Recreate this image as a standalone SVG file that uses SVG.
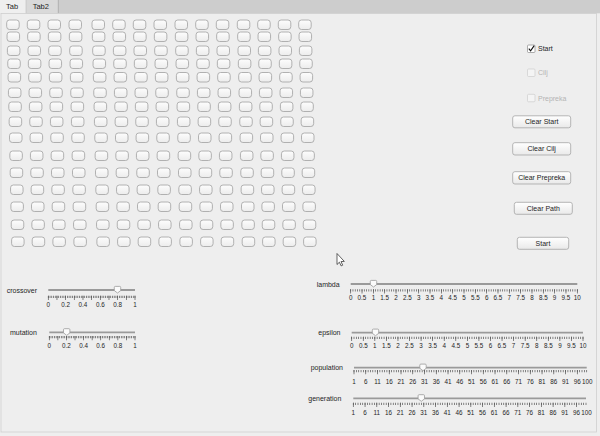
<svg xmlns="http://www.w3.org/2000/svg" xmlns:xlink="http://www.w3.org/1999/xlink" width="600" height="436" viewBox="0 0 600 436">
<style>
text{font-family:"Liberation Sans",Arial,sans-serif;fill:#1e1e1e}
.lb{font-size:7px}
.tl{font-size:6.3px;text-anchor:middle}
.bt{font-size:7px;text-anchor:middle}
.dis{fill:#b4b4b4}
.cell{fill:url(#gc);stroke:#a9a9a9;stroke-width:0.9}
.btn{fill:url(#gb);stroke:#a4a4a4;stroke-width:0.8}
.trk{stroke:#9a9a9a;stroke-width:1.8}
.mn{stroke:#555;stroke-width:2.3;fill:none}
.mj{stroke:#555;stroke-width:4.3;fill:none}
.thumb{fill:#fbfbfb;stroke:#9a9a9a;stroke-width:0.8}
</style>
<defs>
<linearGradient id="gc" x1="0" y1="0" x2="0" y2="1"><stop offset="0" stop-color="#fdfdfd"/><stop offset="1" stop-color="#ececec"/></linearGradient>
<linearGradient id="gb" x1="0" y1="0" x2="0" y2="1"><stop offset="0" stop-color="#ffffff"/><stop offset="1" stop-color="#e9e9e9"/></linearGradient>
<rect id="cell" width="12.5" height="9.5" rx="2.8" class="cell"/>
<path id="th" class="thumb" d="M-3.2,-2.6 q0,-1 1,-1 h4.4 q1,0 1,1 v3.2 l-3.2,2.4 l-3.2,-2.4 z"/>
<g id="gridrow">
<use xlink:href="#cell" x="6.7"/><use xlink:href="#cell" x="27.3"/><use xlink:href="#cell" x="48"/><use xlink:href="#cell" x="69"/><use xlink:href="#cell" x="92"/><use xlink:href="#cell" x="112.7"/><use xlink:href="#cell" x="133.3"/><use xlink:href="#cell" x="154"/><use xlink:href="#cell" x="175"/><use xlink:href="#cell" x="195.7"/><use xlink:href="#cell" x="216.3"/><use xlink:href="#cell" x="237.3"/><use xlink:href="#cell" x="257.7"/><use xlink:href="#cell" x="278.3"/><use xlink:href="#cell" x="298.7"/>
</g>
</defs>

<rect width="600" height="436" fill="#eeeeee"/>
<g id="tabs">
<rect x="0" y="0" width="600" height="13.3" fill="#cdcdcd"/>
<rect x="26" y="0" width="32" height="13.3" fill="#d9d9d9"/>
<rect x="0" y="0" width="26" height="13.8" fill="#efefef"/>
<line x1="58.3" y1="0" x2="58.3" y2="13.3" stroke="#a8a8a8" stroke-width="0.8"/>
<line x1="26" y1="0" x2="26" y2="13.3" stroke="#bdbdbd" stroke-width="0.6"/>
<text class="lb" x="6" y="9.2" style="font-size:7.5px">Tab</text>
<text class="lb" x="32.7" y="9.2" style="font-size:7.5px">Tab2</text>
</g>
<rect x="1" y="13.5" width="595.5" height="418.5" fill="none" stroke="#cfcfcf" stroke-width="0.8"/>

<g id="grid">
<use xlink:href="#gridrow" x="0" y="20"/>
<use xlink:href="#gridrow" x="0.35" y="32"/>
<use xlink:href="#gridrow" x="0.7" y="46"/>
<use xlink:href="#gridrow" x="1.05" y="59"/>
<use xlink:href="#gridrow" x="1.4" y="72.5"/>
<use xlink:href="#gridrow" x="1.75" y="88"/>
<use xlink:href="#gridrow" x="2.1" y="102"/>
<use xlink:href="#gridrow" x="2.45" y="117"/>
<use xlink:href="#gridrow" x="2.8" y="133"/>
<use xlink:href="#gridrow" x="3.15" y="151"/>
<use xlink:href="#gridrow" x="3.5" y="168"/>
<use xlink:href="#gridrow" x="3.85" y="185"/>
<use xlink:href="#gridrow" x="4.2" y="202"/>
<use xlink:href="#gridrow" x="4.55" y="220"/>
<use xlink:href="#gridrow" x="4.9" y="237"/>
</g>

<g id="chk-start">
<rect x="527.5" y="45" width="7.5" height="7.5" rx="1" fill="#fff" stroke="#8a8a8a" stroke-width="0.7"/>
<path d="M528.8,48.6 l1.8,2.2 l3.6,-5.2" fill="none" stroke="#111" stroke-width="1.1"/>
<text class="lb" x="538" y="51.3">Start</text>
</g>
<g id="chk-cilj">
<rect x="527.5" y="69" width="7.5" height="7.5" rx="1" fill="#f4f4f4" stroke="#cdcdcd" stroke-width="0.7"/>
<text class="lb dis" x="538" y="75.3">Cilj</text>
</g>
<g id="chk-prepreka">
<rect x="527.5" y="94.3" width="7.5" height="7.5" rx="1" fill="#f4f4f4" stroke="#cdcdcd" stroke-width="0.7"/>
<text class="lb dis" x="538" y="100.6">Prepreka</text>
</g>

<g id="btn-clear-start"><rect class="btn" x="512.7" y="115.8" width="58" height="12" rx="2.2"/><text class="bt" x="541.7" y="124.4">Clear Start</text></g>
<g id="btn-clear-cilj"><rect class="btn" x="512.7" y="142.7" width="58" height="12.3" rx="2.2"/><text class="bt" x="541.7" y="151.4">Clear Cilj</text></g>
<g id="btn-clear-prepreka"><rect class="btn" x="512.7" y="171.7" width="58" height="12.3" rx="2.2"/><text class="bt" x="541.7" y="180.4">Clear Prepreka</text></g>
<g id="btn-clear-path"><rect class="btn" x="514.3" y="202.3" width="58" height="12" rx="2.2"/><text class="bt" x="543.3" y="210.9">Clear Path</text></g>
<g id="btn-start"><rect class="btn" x="517.3" y="237.3" width="51.4" height="12" rx="2.2"/><text class="bt" x="543" y="245.9">Start</text></g>

<g id="cursor">
<path d="M337,253.5 L337,264.5 L339.4,262.2 L341.1,265.9 L342.7,265.2 L341,261.6 L344.3,261.4 Z" fill="#fff" stroke="#222" stroke-width="0.7" stroke-linejoin="round"/>
</g>

<g id="slider-crossover">
<text class="lb" x="6.7" y="292.5">crossover</text>
<line class="trk" x1="48.3" y1="290" x2="135" y2="290"/>
<line class="mn" x1="47.95" y1="296.85" x2="135.4" y2="296.85" stroke-dasharray="0.7 1.034"/>
<line class="mj" x1="47.95" y1="297.85" x2="135.4" y2="297.85" stroke-dasharray="0.7 7.97"/>
<use xlink:href="#th" x="117.5" y="290"/>
<text class="tl" x="48.3" y="306.7">0</text><text class="tl" x="65.6" y="306.7">0.2</text><text class="tl" x="83" y="306.7">0.4</text><text class="tl" x="100.3" y="306.7">0.6</text><text class="tl" x="117.7" y="306.7">0.8</text><text class="tl" x="135" y="306.7">1</text>
</g>

<g id="slider-mutation">
<text class="lb" x="10" y="334.5">mutation</text>
<line class="trk" x1="49.3" y1="332.3" x2="135" y2="332.3"/>
<line class="mn" x1="48.95" y1="337.15" x2="135.4" y2="337.15" stroke-dasharray="0.7 1.014"/>
<line class="mj" x1="48.95" y1="338.15" x2="135.4" y2="338.15" stroke-dasharray="0.7 7.87"/>
<use xlink:href="#th" x="66.7" y="332.3"/>
<text class="tl" x="49.3" y="347.7">0</text><text class="tl" x="66.4" y="347.7">0.2</text><text class="tl" x="83.6" y="347.7">0.4</text><text class="tl" x="100.7" y="347.7">0.6</text><text class="tl" x="117.9" y="347.7">0.8</text><text class="tl" x="135" y="347.7">1</text>
</g>

<g id="slider-lambda">
<text class="lb" x="316.7" y="286.5">lambda</text>
<line class="trk" x1="350.7" y1="284" x2="577.3" y2="284"/>
<line class="mn" x1="350.35" y1="290.45" x2="577.7" y2="290.45" stroke-dasharray="0.7 1.566"/>
<line class="mj" x1="350.35" y1="291.45" x2="577.7" y2="291.45" stroke-dasharray="0.7 10.63"/>
<use xlink:href="#th" x="373.5" y="284"/>
<g>
<text class="tl" x="350.7" y="300">0</text><text class="tl" x="362" y="300">0.5</text><text class="tl" x="373.4" y="300">1</text><text class="tl" x="384.7" y="300">1.5</text><text class="tl" x="396" y="300">2</text><text class="tl" x="407.4" y="300">2.5</text><text class="tl" x="418.7" y="300">3</text><text class="tl" x="430" y="300">3.5</text><text class="tl" x="441.3" y="300">4</text><text class="tl" x="452.7" y="300">4.5</text><text class="tl" x="464" y="300">5</text><text class="tl" x="475.3" y="300">5.5</text><text class="tl" x="486.7" y="300">6</text><text class="tl" x="498" y="300">6.5</text><text class="tl" x="509.3" y="300">7</text><text class="tl" x="520.7" y="300">7.5</text><text class="tl" x="532" y="300">8</text><text class="tl" x="543.3" y="300">8.5</text><text class="tl" x="554.6" y="300">9</text><text class="tl" x="566" y="300">9.5</text><text class="tl" x="577.3" y="300">10</text>
</g>
</g>

<g id="slider-epsilon">
<text class="lb" x="318.3" y="335">epsilon</text>
<line class="trk" x1="351.7" y1="332.7" x2="583" y2="332.7"/>
<line class="mn" x1="351.35" y1="337.85" x2="583.4" y2="337.85" stroke-dasharray="0.7 1.613"/>
<line class="mj" x1="351.35" y1="338.85" x2="583.4" y2="338.85" stroke-dasharray="0.7 10.865"/>
<use xlink:href="#th" x="375.5" y="332.7"/>
<g>
<text class="tl" x="351.7" y="348.3">0</text><text class="tl" x="363.3" y="348.3">0.5</text><text class="tl" x="374.8" y="348.3">1</text><text class="tl" x="386.4" y="348.3">1.5</text><text class="tl" x="398" y="348.3">2</text><text class="tl" x="409.5" y="348.3">2.5</text><text class="tl" x="421.1" y="348.3">3</text><text class="tl" x="432.7" y="348.3">3.5</text><text class="tl" x="444.2" y="348.3">4</text><text class="tl" x="455.8" y="348.3">4.5</text><text class="tl" x="467.4" y="348.3">5</text><text class="tl" x="478.9" y="348.3">5.5</text><text class="tl" x="490.5" y="348.3">6</text><text class="tl" x="502" y="348.3">6.5</text><text class="tl" x="513.6" y="348.3">7</text><text class="tl" x="525.2" y="348.3">7.5</text><text class="tl" x="536.7" y="348.3">8</text><text class="tl" x="548.3" y="348.3">8.5</text><text class="tl" x="559.9" y="348.3">9</text><text class="tl" x="571.4" y="348.3">9.5</text><text class="tl" x="583" y="348.3">10</text>
</g>
</g>

<g id="slider-population">
<text class="lb" x="310.7" y="370.3">population</text>
<line class="trk" x1="354" y1="367.7" x2="586.7" y2="367.7"/>
<line class="mn" x1="353.65" y1="371.15" x2="587.1" y2="371.15" stroke-dasharray="0.7 1.6505"/>
<line class="mj" x1="353.65" y1="372.15" x2="587.1" y2="372.15" stroke-dasharray="0.7 11.0525"/>
<use xlink:href="#th" x="423" y="367.7"/>
<g>
<text class="tl" x="354" y="383.5">1</text><text class="tl" x="365.8" y="383.5">6</text><text class="tl" x="377.5" y="383.5">11</text><text class="tl" x="389.3" y="383.5">16</text><text class="tl" x="401" y="383.5">21</text><text class="tl" x="412.8" y="383.5">26</text><text class="tl" x="424.5" y="383.5">31</text><text class="tl" x="436.3" y="383.5">36</text><text class="tl" x="448" y="383.5">41</text><text class="tl" x="459.8" y="383.5">46</text><text class="tl" x="471.5" y="383.5">51</text><text class="tl" x="483.3" y="383.5">56</text><text class="tl" x="495" y="383.5">61</text><text class="tl" x="506.8" y="383.5">66</text><text class="tl" x="518.5" y="383.5">71</text><text class="tl" x="530.3" y="383.5">76</text><text class="tl" x="542" y="383.5">81</text><text class="tl" x="553.8" y="383.5">86</text><text class="tl" x="565.5" y="383.5">91</text><text class="tl" x="577.3" y="383.5">96</text><text class="tl" x="587.2" y="383.5">100</text>
</g>
</g>

<g id="slider-generation">
<text class="lb" x="308.3" y="401">generation</text>
<line class="trk" x1="353.3" y1="398.3" x2="586" y2="398.3"/>
<line class="mn" x1="352.95" y1="403.85" x2="586.4" y2="403.85" stroke-dasharray="0.7 1.6505"/>
<line class="mj" x1="352.95" y1="404.85" x2="586.4" y2="404.85" stroke-dasharray="0.7 11.0525"/>
<use xlink:href="#th" x="421.3" y="398.3"/>
<g>
<text class="tl" x="353.3" y="415">1</text><text class="tl" x="365.1" y="415">6</text><text class="tl" x="376.8" y="415">11</text><text class="tl" x="388.6" y="415">16</text><text class="tl" x="400.3" y="415">21</text><text class="tl" x="412.1" y="415">26</text><text class="tl" x="423.8" y="415">31</text><text class="tl" x="435.6" y="415">36</text><text class="tl" x="447.3" y="415">41</text><text class="tl" x="459.1" y="415">46</text><text class="tl" x="470.8" y="415">51</text><text class="tl" x="482.6" y="415">56</text><text class="tl" x="494.3" y="415">61</text><text class="tl" x="506.1" y="415">66</text><text class="tl" x="517.8" y="415">71</text><text class="tl" x="529.6" y="415">76</text><text class="tl" x="541.3" y="415">81</text><text class="tl" x="553.1" y="415">86</text><text class="tl" x="564.8" y="415">91</text><text class="tl" x="576.6" y="415">96</text><text class="tl" x="586.5" y="415">100</text>
</g>
</g>
</svg>
